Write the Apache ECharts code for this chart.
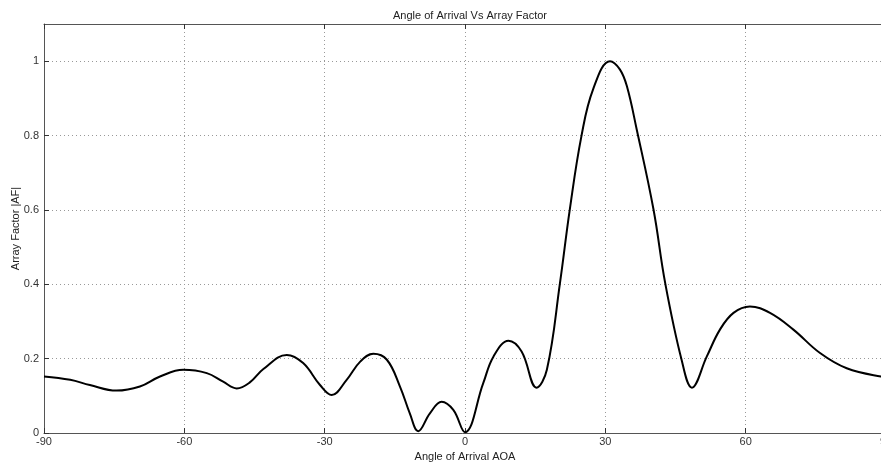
<!DOCTYPE html>
<html>
<head>
<meta charset="utf-8">
<title>Angle of Arrival Vs Array Factor</title>
<script src="https://cdn.jsdelivr.net/npm/echarts@6/dist/echarts.min.js"></script>
<style>
	html, body{
		margin: 0;
		padding: 0;
		background: #fff;
	}
	#main{
		width: 881px;
		height: 464px;
	}
</style>
</head>
<body>
<div id="main"></div>
<script type="text/javascript">
// angle of arrival (deg) and array factor
var angles = [-90, -84.4, -80.2, -74.5, -69.5, -65.2, -60.2, -55.2, -51.7, -48.8,
	-46.0, -43.1, -38.1, -34.6, -31.0, -28.5, -25.3, -22.4, -19.6, -16.7,
	-13.9, -11.8, -10.0, -7.5, -5.0, -2.5, 0, 3.9, 6.1, 9.3,
	12.1, 15.3, 17.5, 20.3, 22.4, 24.9, 27.4, 31.0, 33.1, 34.6,
	36.7, 40.3, 42.8, 46.3, 48.5, 51.7, 54.5, 57.4, 60.9, 65.2,
	70.2, 75.9, 81.6, 88.9, 90];
var af = [0.152, 0.143, 0.129, 0.114, 0.125, 0.152, 0.170, 0.161, 0.138, 0.120,
	0.136, 0.172, 0.210, 0.188, 0.129, 0.102, 0.143, 0.192, 0.213, 0.197,
	0.125, 0.053, 0.005, 0.053, 0.084, 0.062, 0.002, 0.134, 0.206, 0.248,
	0.219, 0.122, 0.170, 0.403, 0.601, 0.799, 0.925, 1.0, 0.978, 0.933,
	0.817, 0.601, 0.403, 0.197, 0.122, 0.206, 0.278, 0.323, 0.340, 0.323,
	0.278, 0.215, 0.174, 0.152, 0.151];
var xTicks = [-90, -60, -30, 0, 30, 60, 90];
var yTicks = [0, 0.2, 0.4, 0.6, 0.8, 1];

var points = [];
for (var i = 0; i < angles.length; i++) {
	points.push([angles[i], af[i]]);
}

var font = 'Liberation Sans, Arial, sans-serif';
var axisColor = '#555';
var gridLine = {show: true, lineStyle: {color: '#999', type: [1, 3], width: 1}};

var myChart = echarts.init(document.getElementById('main'));
var option = {
	backgroundColor: '#fff',
	animation: false,
	title: {
		text: 'Angle of Arrival Vs Array Factor',
		left: 465,
		textAlign: 'center',
		top: 5,
		textStyle: {fontFamily: font, fontSize: 11, fontWeight: 'normal', color: '#222'}
	},
	grid: {left: 44, right: -5, top: 24, bottom: 31, containLabel: false, outerBoundsMode: 'none'},
	xAxis: [{
		type: 'value',
		min: -90, max: 90, interval: 30,
		position: 'bottom',
		name: 'Angle of Arrival AOA',
		nameLocation: 'middle',
		nameGap: 16,
		nameTextStyle: {fontFamily: font, fontSize: 11, color: '#222'},
		axisLine: {show: true, onZero: false, lineStyle: {color: axisColor, width: 1}},
		axisTick: {show: true, inside: true, length: 5, lineStyle: {color: '#333'}},
		axisLabel: {
			fontFamily: font, fontSize: 11, color: '#333', margin: 3,
			formatter: function (v) { return xTicks.indexOf(v) >= 0 ? String(v) : ''; }
		},
		splitLine: gridLine
	}, {
		type: 'value',
		min: -90, max: 90, interval: 30,
		position: 'top',
		axisLine: {show: true, onZero: false, lineStyle: {color: axisColor, width: 1}},
		axisTick: {show: true, inside: true, length: 5, lineStyle: {color: '#333'}},
		axisLabel: {show: false},
		splitLine: {show: false}
	}],
	yAxis: [{
		type: 'value',
		min: 0, max: 1.1, interval: 0.2,
		position: 'left',
		name: 'Array Factor |AF|',
		nameLocation: 'middle',
		nameRotate: 90,
		nameGap: 23,
		nameMoveOverlap: false,
		nameTextStyle: {fontFamily: font, fontSize: 11, color: '#222'},
		axisLine: {show: true, onZero: false, lineStyle: {color: axisColor, width: 1}},
		axisTick: {show: true, inside: true, length: 5, lineStyle: {color: '#333'}},
		axisLabel: {
			fontFamily: font, fontSize: 11, color: '#333', margin: 5,
			showMaxLabel: false,
			formatter: function (v) {
				var r = Math.round(v * 10) / 10;
				return yTicks.indexOf(r) >= 0 ? String(r) : '';
			}
		},
		splitLine: gridLine
	}],
	series: [{
		type: 'line',
		data: points,
		smooth: 0.4,
		showSymbol: false,
		lineStyle: {color: '#000', width: 2},
		itemStyle: {color: '#000'}
	}]
};
myChart.setOption(option);
</script>
</body>
</html>
